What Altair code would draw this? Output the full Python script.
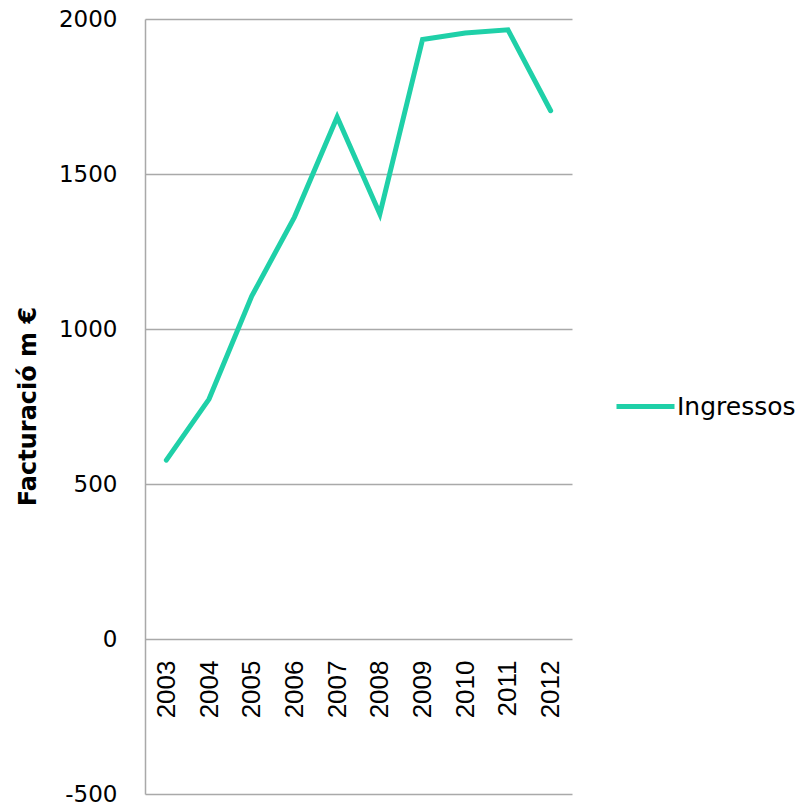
import altair as alt
import pandas as pd

years = ["2003", "2004", "2005", "2006", "2007", "2008", "2009", "2010", "2011", "2012"]
ingressos = [577, 774, 1106, 1361, 1684, 1371, 1934, 1955, 1965, 1704]
series_name = "Ingressos"

df = pd.DataFrame({"year": years, "value": ingressos, "series": [series_name] * len(years)})

grid_color = "#a9a9a9"
main_font = "DejaVu Sans"

chart = alt.Chart(df).mark_line(strokeWidth=5, strokeCap="round").encode(
    x=alt.X(
        "year:N",
        sort=years,
        title=None,
        axis=alt.Axis(
            labelAngle=-90,
            labelFont="Liberation Sans",
            labelFontSize=26,
            labelColor="#000000",
            labelPadding=21,
            ticks=False,
            domain=False,
            grid=False,
            offset=-155,
        ),
    ),
    y=alt.Y(
        "value:Q",
        scale=alt.Scale(domain=[-500, 2000], nice=False, zero=False),
        axis=alt.Axis(
            values=[-500, 0, 500, 1000, 1500, 2000],
            labelExpr="'' + datum.value",
            title="Facturació m €",
            titleFont=main_font,
            titleFontSize=24,
            titleFontWeight="bold",
            titleColor="#000000",
            titleAngle=-90,
            titleAlign="center",
            titleBaseline="middle",
            titleX=-117,
            titleY=387,
            labelFont=main_font,
            labelFontSize=23,
            labelColor="#000000",
            labelPadding=28,
            ticks=False,
            domainColor=grid_color,
            domainWidth=1.5,
            gridColor=grid_color,
            gridWidth=1.5,
            gridOpacity=1,
        ),
    ),
    color=alt.Color(
        "series:N",
        scale=alt.Scale(domain=[series_name], range=["#1fd0a8"]),
        legend=alt.Legend(
            title=None,
            orient="none",
            legendX=469,
            legendY=356,
            symbolType="stroke",
            symbolSize=3364,
            symbolStrokeWidth=5,
            labelFont=main_font,
            labelFontSize=25,
            labelColor="#000000",
            labelOffset=0,
            padding=0,
        ),
    ),
).properties(
    width=427,
    height=775,
    autosize=alt.AutoSizeParams(type="none"),
    padding={"left": 137, "top": 11, "right": 225, "bottom": 10},
).configure_view(stroke=None)

chart.save("out.html", embed_options={"renderer": "svg", "actions": False})
